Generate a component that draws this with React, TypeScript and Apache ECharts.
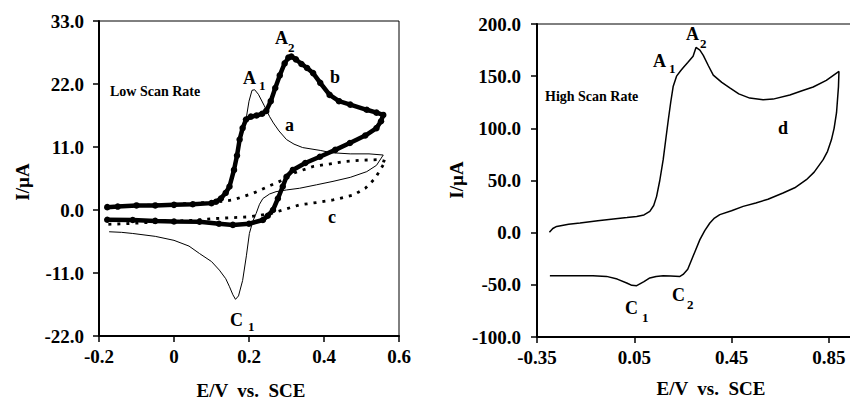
import React, { useEffect, useRef } from "react";
import * as echarts from "echarts";

// ---------- data (E / V vs. SCE, I / µA) ----------
const leftXTicks = { min: -0.2, max: 0.6, interval: 0.2 };
const leftYTicks = { min: -22, max: 33, interval: 11 };
const rightXTicks = { min: -0.35, max: 1.25, interval: 0.4 };
const rightYTicks = { min: -100, max: 200, interval: 50 };

// curve a (thin solid, low scan rate)
const curveA: [number, number][] = [
  [-0.173, -3.8], [-0.14, -3.9], [-0.11, -4.1], [-0.05, -4.6], [0.0, -5.3], [0.04, -6.3],
  [0.068, -7.6], [0.1, -9.0], [0.121, -10.5], [0.138, -12.0], [0.148, -13.4], [0.157, -14.8],
  [0.164, -15.6], [0.172, -15.0], [0.183, -12.3], [0.193, -8.0], [0.201, -4.1], [0.21, -2.0],
  [0.219, -0.6], [0.228, 1.0], [0.237, 2.0], [0.255, 2.8], [0.272, 3.2], [0.3, 3.5],
  [0.335, 3.8], [0.38, 4.4], [0.424, 5.0], [0.47, 5.7], [0.514, 6.7], [0.54, 7.8], [0.558, 9.6],
  [0.52, 9.8], [0.47, 9.8], [0.42, 10.0], [0.39, 10.4], [0.343, 10.9], [0.32, 11.5], [0.3, 12.3],
  [0.28, 13.8], [0.265, 15.2], [0.255, 16.3], [0.24, 18.3], [0.225, 20.2], [0.215, 21.0],
  [0.208, 20.9], [0.2, 19.0], [0.192, 15.8], [0.183, 13.5], [0.175, 12.0], [0.16, 8.0],
  [0.148, 4.5], [0.13, 2.0], [0.112, 1.45], [0.05, 1.0], [-0.05, 0.8], [-0.17, 0.6],
];

// curve b (thick dotted, low scan rate)
const curveB: [number, number][] = [
  [-0.178, 0.5], [-0.15, 0.6], [-0.1, 0.8], [-0.05, 0.8], [0.0, 0.9], [0.05, 1.0], [0.1, 1.2],
  [0.112, 1.45], [0.125, 2.0], [0.138, 3.0], [0.148, 4.1], [0.16, 7.0], [0.168, 9.5],
  [0.175, 12.3], [0.183, 14.3], [0.192, 15.8], [0.205, 16.3], [0.22, 16.5], [0.235, 16.8],
  [0.246, 17.3], [0.258, 19.0], [0.27, 21.3], [0.282, 23.5], [0.295, 25.6], [0.305, 26.6],
  [0.313, 26.8], [0.325, 26.3], [0.34, 25.5], [0.355, 24.8], [0.371, 23.9], [0.39, 22.2],
  [0.415, 20.1], [0.44, 19.0], [0.47, 18.4], [0.514, 17.5], [0.54, 17.0], [0.558, 16.6],
  [0.552, 15.5], [0.54, 14.3], [0.51, 13.0], [0.469, 11.7], [0.43, 10.5], [0.389, 9.3],
  [0.35, 8.2], [0.317, 7.0], [0.3, 5.8], [0.29, 4.1], [0.277, 2.0], [0.264, 0.0],
  [0.25, -1.0], [0.237, -1.75], [0.2, -2.4], [0.157, -2.6], [0.12, -2.4], [0.068, -2.05],
  [0.0, -2.0], [-0.05, -1.9], [-0.11, -1.75], [-0.178, -1.7],
];

// curve c (dashed, low scan rate)
const curveC: [number, number][] = [
  [-0.175, -2.5], [-0.13, -2.4], [-0.05, -2.1], [0.05, -1.8], [0.12, -1.45], [0.2, -1.2],
  [0.26, -0.6], [0.3, 0.2], [0.335, 0.9], [0.38, 1.3], [0.424, 1.75], [0.478, 2.6],
  [0.51, 3.8], [0.536, 5.5], [0.558, 7.9], [0.567, 8.4], [0.548, 8.8], [0.5, 8.7],
  [0.46, 8.5], [0.4, 7.9], [0.371, 7.6], [0.317, 6.4], [0.282, 5.0], [0.21, 2.9],
  [0.157, 1.75], [0.12, 1.45], [0.0, 1.0], [-0.17, 0.6],
];

// curve d (high scan rate)
const curveD: [number, number][] = [
  [-0.299, 0.3], [-0.285, 4.0], [-0.269, 6.0], [-0.22, 8.0], [-0.173, 9.3], [-0.1, 11.5],
  [-0.036, 13.1], [0.02, 14.5], [0.06, 15.6], [0.09, 17.0], [0.114, 20.4], [0.13, 26.0],
  [0.142, 34.8], [0.155, 50.0], [0.169, 70.0], [0.18, 90.0], [0.19, 108.0], [0.2, 125.0],
  [0.21, 140.0], [0.224, 150.0], [0.24, 155.0], [0.251, 158.0], [0.27, 163.0], [0.292, 169.0],
  [0.304, 177.5], [0.32, 175.0], [0.334, 170.0], [0.355, 160.0], [0.375, 151.0], [0.41, 144.0],
  [0.443, 138.7], [0.48, 133.0], [0.525, 129.0], [0.58, 127.5], [0.621, 128.0], [0.69, 132.0],
  [0.74, 136.0], [0.786, 139.6], [0.84, 146.0], [0.892, 154.6],
  [0.89, 140.0], [0.882, 115.0], [0.872, 100.0], [0.861, 89.0], [0.845, 78.0], [0.827, 70.0],
  [0.79, 58.0], [0.758, 50.8], [0.71, 43.0], [0.662, 38.0], [0.6, 32.0], [0.55, 28.5],
  [0.498, 25.2], [0.45, 21.0], [0.402, 17.3], [0.38, 14.0], [0.361, 9.3], [0.34, 2.0],
  [0.32, -6.7], [0.3, -18.0], [0.286, -25.9], [0.27, -35.0], [0.251, -40.0], [0.238, -41.9],
  [0.2, -41.5], [0.169, -41.2], [0.14, -42.0], [0.114, -43.4], [0.09, -47.0], [0.06, -50.8],
  [0.04, -50.5], [0.019, -48.2], [-0.02, -44.5], [-0.064, -41.9], [-0.12, -41.2],
  [-0.173, -41.2], [-0.24, -41.2], [-0.297, -41.2],
];

const xTitle = "E/V  vs.  SCE";
const yTitle = "I/\u00b5A";

// ---------- styling ----------
const FONT = "Liberation Serif";
const TICK_SIZE = 19;

function axisCommon() {
  return {
    axisLine: { show: true, onZero: false, lineStyle: { color: "#000", width: 2 } },
    axisTick: { show: true, inside: false, length: 6, lineStyle: { color: "#000", width: 1.5 } },
    splitLine: { show: false },
  };
}

function txt(text: string, x: number, y: number, size: number, extra: any = {}) {
  const { align, ...rest } = extra;
  return {
    type: "text",
    x,
    y,
    silent: true,
    ...rest,
    style: {
      text,
      fill: "#000",
      fontFamily: FONT,
      fontWeight: "bold",
      fontSize: size,
      textAlign: align || "left",
      textVerticalAlign: "middle",
    },
  };
}

function subLabel(main: string, sub: string, x: number, y: number, sx: number, sy: number) {
  return [txt(main, x, y, 18), txt(sub, sx, sy, 13)];
}

export default function App() {
  const ref = useRef<HTMLDivElement>(null);
  useEffect(() => {
    document.body.style.margin = "0";
    if (!ref.current) return;
    const chart = echarts.init(ref.current, undefined, { renderer: "svg" });
    const labelStyle = { color: "#000", fontFamily: FONT, fontWeight: "bold", fontSize: TICK_SIZE };
    chart.setOption({
      animation: false,
      backgroundColor: "#fff",
      grid: [
        { left: 99, top: 21, width: 300, height: 315, show: true, borderColor: "#000", borderWidth: 1, backgroundColor: "transparent", outerBoundsMode: "none", containLabel: false },
        { left: 537, top: 24, width: 389, height: 313, show: true, borderColor: "#000", borderWidth: 1, backgroundColor: "transparent", outerBoundsMode: "none", containLabel: false },
      ],
      xAxis: [
        {
          gridIndex: 0, type: "value", ...leftXTicks, ...axisCommon(),
          axisLabel: { ...labelStyle, margin: 11, formatter: (v: number) => (Math.abs(v) < 1e-9 ? "0" : String(Math.round(v * 10) / 10)) },
        },
        {
          gridIndex: 1, type: "value", ...rightXTicks, ...axisCommon(),
          axisLabel: { ...labelStyle, margin: 11, formatter: (v: number) => (v > 1 ? "" : v.toFixed(2)) },
        },
      ],
      yAxis: [
        {
          gridIndex: 0, type: "value", ...leftYTicks, ...axisCommon(),
          axisLabel: { ...labelStyle, margin: 15, formatter: (v: number) => v.toFixed(1) },
        },
        {
          gridIndex: 1, type: "value", ...rightYTicks, ...axisCommon(),
          axisLabel: { ...labelStyle, margin: 16, formatter: (v: number) => v.toFixed(1) },
        },
      ],
      series: [
        {
          type: "line", xAxisIndex: 0, yAxisIndex: 0, data: curveC, showSymbol: false, smooth: false,
          lineStyle: { color: "#000", width: 2.8, type: [3, 6], cap: "butt" }, z: 2,
        },
        {
          type: "line", xAxisIndex: 0, yAxisIndex: 0, data: curveB, showSymbol: true, symbol: "circle",
          symbolSize: 6.5, itemStyle: { color: "#000" }, lineStyle: { color: "#000", width: 4.5 }, z: 3,
        },
        {
          type: "line", xAxisIndex: 0, yAxisIndex: 0, data: curveA, showSymbol: false,
          lineStyle: { color: "#000", width: 1 }, z: 4,
        },
        {
          type: "line", xAxisIndex: 1, yAxisIndex: 1, data: curveD, showSymbol: false,
          lineStyle: { color: "#000", width: 1.5 }, z: 4,
        },
      ],
      graphic: [
        // axis titles
        txt(xTitle, 251, 390, TICK_SIZE, { align: "center" }),
        txt(xTitle, 711, 388, TICK_SIZE, { align: "center" }),
        txt(yTitle, 22, 182, TICK_SIZE, { align: "center", rotation: Math.PI / 2 }),
        txt(yTitle, 456, 180, TICK_SIZE, { align: "center", rotation: Math.PI / 2 }),
        // left panel annotations
        txt("Low Scan Rate", 110, 91, 14),
        ...subLabel("A", "1", 243, 78, 259, 85),
        ...subLabel("A", "2", 275, 38, 288, 47),
        ...subLabel("C", "1", 230, 320, 248, 326),
        txt("a", 285, 125, 18),
        txt("b", 330, 77, 18),
        txt("c", 328, 217, 18),
        // right panel annotations
        txt("High Scan Rate", 545, 96, 14),
        ...subLabel("A", "1", 653, 61, 669, 68),
        ...subLabel("A", "2", 686, 34, 700, 43),
        ...subLabel("C", "1", 625, 308, 642, 317),
        ...subLabel("C", "2", 672, 295, 687, 304),
        txt("d", 778, 128, 18),
      ],
    });
    return () => chart.dispose();
  }, []);
  return <div ref={ref} style={{ width: 850, height: 401 }} />;
}
